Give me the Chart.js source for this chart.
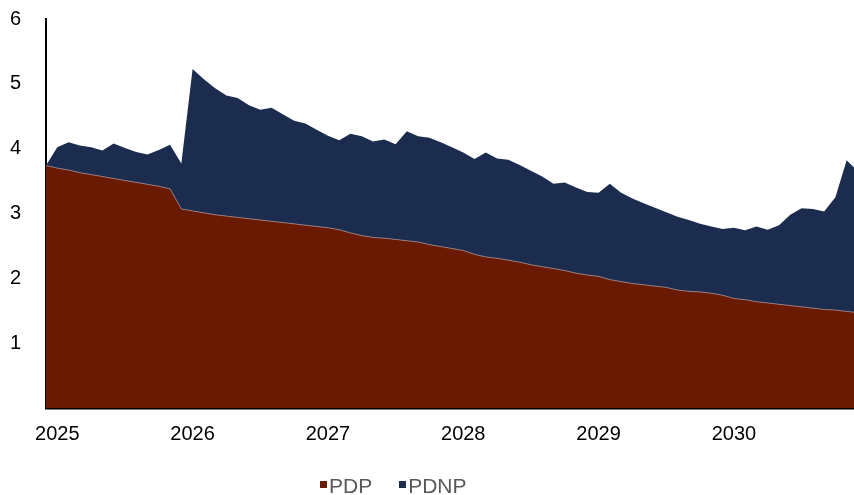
<!DOCTYPE html>
<html>
<head>
<meta charset="utf-8">
<title>PDP / PDNP</title>
<script src="https://cdn.jsdelivr.net/npm/chart.js@4.4.1/dist/chart.umd.min.js"></script>
<style>
    html, body { margin: 0; padding: 0; background: #fff; }
    .wrap { position: relative; width: 854px; height: 495px; }
    .legend {
        position: absolute; left: 320px; top: 474px;
        font: 21px "Liberation Sans", Arial, sans-serif; color: #595959;
        display: flex; align-items: center; white-space: nowrap;
    }
    .legend .box { display: inline-block; width: 7px; height: 7px; margin-right: 2px; position: relative; top: -2px; }
    .legend .item { display: flex; align-items: center; }
    .legend .item + .item { margin-left: 27px; }
</style>
</head>
<body>
<div class="wrap">
    <canvas id="chart" width="854" height="495"></canvas>
    <div class="legend" id="legend"></div>
</div>
<script>
// monthly values, Jan 2025 onward
const pdp = [
    3.74, 3.70, 3.67, 3.63, 3.60, 3.57, 3.54, 3.51, 3.48, 3.45, 3.42, 3.38,
    3.07, 3.04, 3.01, 2.98, 2.96, 2.94, 2.92, 2.90, 2.88, 2.86, 2.84, 2.82,
    2.80, 2.78, 2.75, 2.70, 2.66, 2.63, 2.62, 2.60, 2.58, 2.56, 2.52, 2.49,
    2.46, 2.43, 2.37, 2.33, 2.31, 2.28, 2.25, 2.21, 2.18, 2.15, 2.12, 2.08,
    2.05, 2.03, 1.98, 1.95, 1.92, 1.90, 1.88, 1.86, 1.82, 1.80, 1.79, 1.77,
    1.74, 1.69, 1.67, 1.64, 1.62, 1.60, 1.58, 1.56, 1.54, 1.52, 1.51, 1.49,
    1.47
];
const pdnp = [
    0.00, 0.32, 0.43, 0.42, 0.42, 0.40, 0.54, 0.50, 0.47, 0.46, 0.56, 0.68,
    0.70, 2.19, 2.06, 1.95, 1.86, 1.84, 1.75, 1.70, 1.75, 1.67, 1.59, 1.57,
    1.49, 1.42, 1.38, 1.53, 1.53, 1.48, 1.52, 1.47, 1.69, 1.63, 1.65, 1.61,
    1.56, 1.51, 1.47, 1.61, 1.54, 1.55, 1.50, 1.45, 1.39, 1.31, 1.36, 1.32,
    1.28, 1.29, 1.48, 1.37, 1.31, 1.26, 1.21, 1.16, 1.13, 1.10, 1.05, 1.03,
    1.02, 1.09, 1.07, 1.16, 1.13, 1.22, 1.40, 1.52, 1.53, 1.51, 1.74, 2.33,
    2.18
];
const yearLabels = ['2025', '2026', '2027', '2028', '2029', '2030'];
const yearTicks = [1, 13, 25, 37, 49, 61];
const yTicks = [1, 2, 3, 4, 5, 6];

const seriesNames = ['PDP', 'PDNP'];
const seriesColors = ['#6b1a02', '#1b2c4f'];

const FONT = '"Liberation Sans", Arial, sans-serif';

function toPoints(values) {
    return values.map((v, i) => ({ x: i, y: v }));
}

const ctx = document.getElementById('chart').getContext('2d');

new Chart(ctx, {
    type: 'line',
    data: {
        datasets: [
            {
                label: seriesNames[0],
                data: toPoints(pdp),
                backgroundColor: seriesColors[0],
                borderColor: 'rgba(150,125,130,0.9)',
                borderWidth: 1,
                fill: 'origin',
                pointRadius: 0,
                tension: 0
            },
            {
                label: seriesNames[1],
                data: toPoints(pdnp),
                backgroundColor: seriesColors[1],
                borderWidth: 0,
                fill: '-1',
                pointRadius: 0,
                tension: 0
            }
        ]
    },
    options: {
        responsive: false,
        animation: false,
        layout: { padding: { top: 19, right: 0, bottom: 0, left: 10 } },
        plugins: {
            legend: { display: false },
            tooltip: { enabled: false }
        },
        scales: {
            x: {
                type: 'linear',
                min: 0,
                max: 71.65,
                grid: { display: false, drawTicks: false },
                border: { display: true, color: '#000', width: 2.5 },
                afterBuildTicks: (scale) => {
                    scale.ticks = yearTicks.map(v => ({ value: v }));
                },
                afterFit: (scale) => { scale.height = 87; },
                ticks: {
                    autoSkip: false,
                    maxRotation: 0,
                    padding: 14,
                    color: '#000',
                    font: { family: FONT, size: 20 },
                    callback: (value) => yearLabels[yearTicks.indexOf(value)]
                }
            },
            y: {
                stacked: true,
                min: 0,
                max: 6,
                grid: { display: false, drawTicks: false },
                border: { display: true, color: '#000', width: 2 },
                afterBuildTicks: (scale) => {
                    scale.ticks = yTicks.map(v => ({ value: v }));
                },
                afterFit: (scale) => { scale.width = 36; },
                ticks: {
                    padding: 0,
                    crossAlign: 'far',
                    color: '#000',
                    font: { family: FONT, size: 20 }
                }
            }
        }
    }
});

// legend below the plot
const legendEl = document.getElementById('legend');
legendEl.innerHTML = seriesNames.map((name, i) => `
    <span class="item"><span class="box" style="background:${seriesColors[i]}"></span>${name}</span>
`).join('');
</script>
</body>
</html>
